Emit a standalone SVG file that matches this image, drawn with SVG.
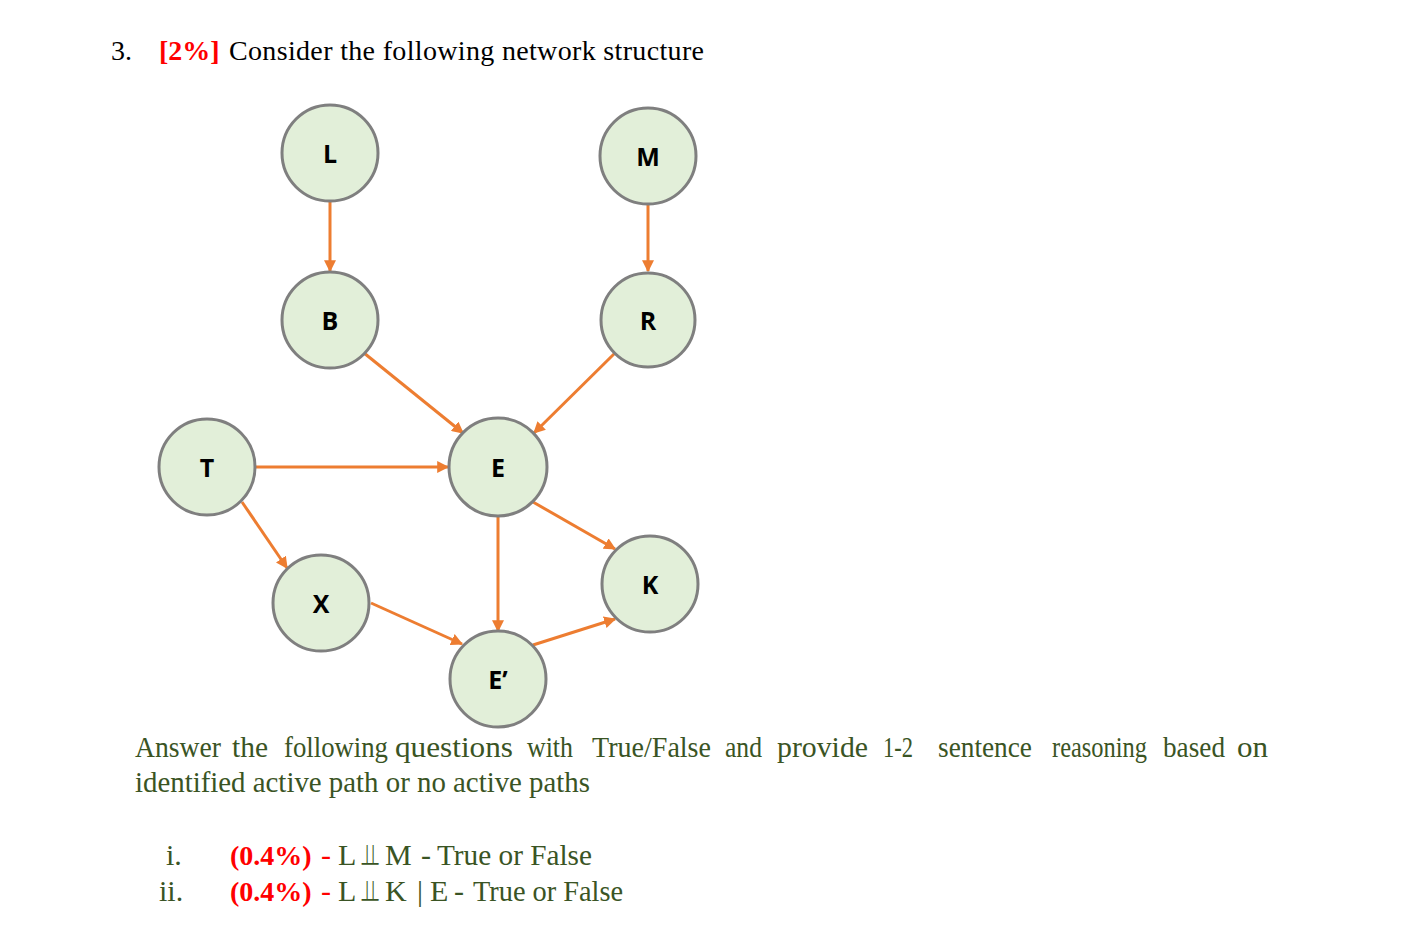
<svg xmlns="http://www.w3.org/2000/svg" width="1423" height="947" viewBox="0 0 1423 947">
<defs>
<style>
.node{fill:#e2efd9;stroke:#7f7f7f;stroke-width:3}
.lbl{font-family:"Open Sans","Liberation Sans",sans-serif;font-weight:bold;font-size:25px;fill:#000;text-anchor:middle;dominant-baseline:central}
.edge{stroke:#ed7d31;stroke-width:3;fill:none;marker-end:url(#arr)}
.t{font-family:"Liberation Serif","Times New Roman",serif;font-size:28px}
.p{font-size:29px}
.q{font-size:30px}
.blk{fill:#000}
.red{fill:#ff0000;font-weight:bold}
.rd{fill:#ff0000}
.grn{fill:#3a5424}
</style>
<marker id="arr" viewBox="0 0 10 10" refX="9" refY="5" markerWidth="4" markerHeight="4" orient="auto" markerUnits="strokeWidth">
<path d="M0,0 L10,5 L0,10 z" fill="#ed7d31"/>
</marker>
</defs>
<rect width="1423" height="947" fill="#fff"/>
<g id="title">
<text class="t blk" x="111" y="60">3.</text>
<text class="t red" x="159" y="60">[2%]</text>
<text class="t blk" x="229" y="60" font-size="29" textLength="475" lengthAdjust="spacing">Consider the following network structure</text>
</g>
<g id="connectors">
<line class="edge" x1="330" y1="201" x2="330" y2="271"/>
<line class="edge" x1="648" y1="204" x2="648" y2="271"/>
<line class="edge" x1="364" y1="353" x2="463" y2="433"/>
<line class="edge" x1="615" y1="353" x2="534" y2="433"/>
<line class="edge" x1="256" y1="467" x2="448" y2="467"/>
<line class="edge" x1="242" y1="502" x2="287" y2="568"/>
<line class="edge" x1="533" y1="502" x2="615" y2="549"/>
<line class="edge" x1="498" y1="516" x2="498" y2="631"/>
<line class="edge" x1="371" y1="603" x2="462" y2="644"/>
<line class="edge" x1="533" y1="645" x2="615" y2="619"/>
</g>
<g id="node-L"><circle class="node" cx="330" cy="153" r="48"/><text class="lbl" x="330" y="153">L</text></g>
<g id="node-M"><circle class="node" cx="648" cy="156" r="48"/><text class="lbl" x="648" y="156">M</text></g>
<g id="node-B"><circle class="node" cx="330" cy="320" r="48"/><text class="lbl" x="330" y="320">B</text></g>
<g id="node-R"><circle class="node" cx="648" cy="320" r="47"/><text class="lbl" x="648" y="320">R</text></g>
<g id="node-T"><circle class="node" cx="207" cy="467" r="48"/><text class="lbl" x="207" y="467">T</text></g>
<g id="node-E"><circle class="node" cx="498" cy="467" r="49"/><text class="lbl" x="498" y="467">E</text></g>
<g id="node-K"><circle class="node" cx="650" cy="584" r="48"/><text class="lbl" x="650" y="584">K</text></g>
<g id="node-X"><circle class="node" cx="321" cy="603" r="48"/><text class="lbl" x="321" y="603">X</text></g>
<g id="node-E2"><circle class="node" cx="498" cy="679" r="48"/><text class="lbl" x="498" y="679">E’</text></g>
<g id="question">
<text class="t p grn" x="135" y="757" textLength="86" lengthAdjust="spacingAndGlyphs">Answer</text>
<text class="t p grn" x="232" y="757" textLength="36" lengthAdjust="spacingAndGlyphs">the</text>
<text class="t p grn" x="284" y="757" textLength="104" lengthAdjust="spacingAndGlyphs">following</text>
<text class="t p grn" x="395" y="757" textLength="118" lengthAdjust="spacingAndGlyphs">questions</text>
<text class="t p grn" x="527" y="757" textLength="46" lengthAdjust="spacingAndGlyphs">with</text>
<text class="t p grn" x="592" y="757" textLength="119" lengthAdjust="spacingAndGlyphs">True/False</text>
<text class="t p grn" x="725" y="757" textLength="37" lengthAdjust="spacingAndGlyphs">and</text>
<text class="t p grn" x="777" y="757" textLength="91" lengthAdjust="spacingAndGlyphs">provide</text>
<text class="t p grn" x="883" y="757" textLength="30" lengthAdjust="spacingAndGlyphs">1-2</text>
<text class="t p grn" x="938" y="757" textLength="94" lengthAdjust="spacingAndGlyphs">sentence</text>
<text class="t p grn" x="1052" y="757" textLength="95" lengthAdjust="spacingAndGlyphs">reasoning</text>
<text class="t p grn" x="1163" y="757" textLength="62" lengthAdjust="spacingAndGlyphs">based</text>
<text class="t p grn" x="1237" y="757" textLength="31" lengthAdjust="spacingAndGlyphs">on</text>
<text class="t p grn" x="135" y="792" textLength="455" lengthAdjust="spacingAndGlyphs">identified active path or no active paths</text>
</g>
<g id="items">
<text class="t q grn" x="166" y="865">i.</text>
<text class="t red" x="230" y="865">(0.4%)</text>
<text class="t q rd" x="321" y="865">-</text>
<text class="t q grn" y="865"><tspan x="338">L</tspan><tspan x="362">⫫</tspan><tspan x="385">M</tspan><tspan x="421">-</tspan></text>
<text class="t q grn" x="437" y="865" textLength="155" lengthAdjust="spacingAndGlyphs">True or False</text>
<text class="t q grn" x="159" y="901">ii.</text>
<text class="t red" x="230" y="901">(0.4%)</text>
<text class="t q rd" x="321" y="901">-</text>
<text class="t q grn" y="901"><tspan x="338">L</tspan><tspan x="362">⫫</tspan><tspan x="385">K</tspan><tspan x="417">|</tspan><tspan x="430">E</tspan><tspan x="454">-</tspan></text>
<text class="t q grn" x="473" y="901" textLength="150" lengthAdjust="spacingAndGlyphs">True or False</text>
</g>
</svg>
